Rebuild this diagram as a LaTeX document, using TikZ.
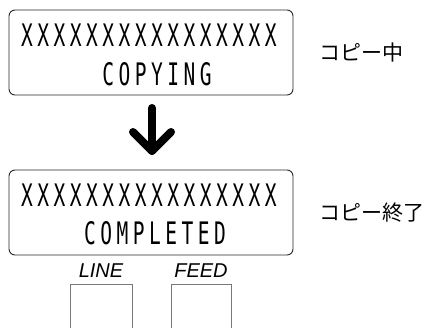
\documentclass[tikz,border=0pt]{standalone}
\usepackage{fontspec}
\setmainfont{Liberation Sans}
\newfontfamily\lcdfont[FakeStretch=0.63, LetterSpace=14.5]{DejaVu Sans Mono}
\newfontfamily\jpfont{Noto Sans CJK JP}
\usetikzlibrary{positioning}
\definecolor{frame}{RGB}{40, 40, 40}
\definecolor{keygray}{RGB}{120, 120, 120}

\begin{document}
\begin{tikzpicture}[x=1pt, y=-1pt]
        \useasboundingbox (0,0) rectangle (441,328);
        % Displays
        \node[draw=frame, line width=0.9pt, rounded corners=6pt, minimum width=284pt, minimum height=85pt, inner sep=0pt] (lcd1) at (151,52.5) {};
        \node[draw=frame, line width=0.9pt, rounded corners=6pt, minimum width=284pt, minimum height=85pt, inner sep=0pt] (lcd2) at (151,212.5) {};
        
        % Display text
        \node[font=\lcdfont\fontsize{31}{31}\selectfont, inner sep=0pt] (l1a) at (149,35) {XXXXXXXXXXXXXXXX};
        \node[font=\lcdfont\fontsize{31}{31}\selectfont, inner sep=0pt] (l1b) at (157,74) {COPYING};
        \node[font=\lcdfont\fontsize{31}{31}\selectfont, inner sep=0pt] (l2a) at (149,195) {XXXXXXXXXXXXXXXX};
        \node[font=\lcdfont\fontsize{31}{31}\selectfont, inner sep=0pt] (l2b) at (155,233) {COMPLETED};
        
        % Captions
        \node[font=\jpfont\fontsize{21}{21}\selectfont, anchor=west, inner sep=0pt] (c1) at (319,53) {コピー中};
        \node[font=\jpfont\fontsize{21}{21}\selectfont, anchor=west, inner sep=0pt] (c2) at (319,213) {コピー終了};
        
        % Arrow
        \coordinate (atop) at (152,108);
        \coordinate (atip) at (152,151);
        \draw[line width=8pt, line cap=round, line join=round] (atop) -- (atip);
        \draw[line width=8pt, line cap=round, line join=round] ([xshift=-19pt, yshift=19pt]atip) -- (atip) -- ([xshift=19pt, yshift=19pt]atip);
        
        % Keys
        \node[font=\itshape\fontsize{20}{20}\selectfont, inner sep=0pt] (kl) at (101,270.5) {LINE};
        \node[font=\itshape\fontsize{20}{20}\selectfont, inner sep=0pt] (kf) at (201,270.5) {FEED};
        \node[draw=keygray, line width=0.9pt, minimum width=62pt, minimum height=60pt, inner sep=0pt, below=6pt of kl] (k1) {};
        \node[draw=keygray, line width=0.9pt, minimum width=60pt, minimum height=60pt, inner sep=0pt, below=6pt of kf] (k2) {};
    \end{tikzpicture}
\end{document}
